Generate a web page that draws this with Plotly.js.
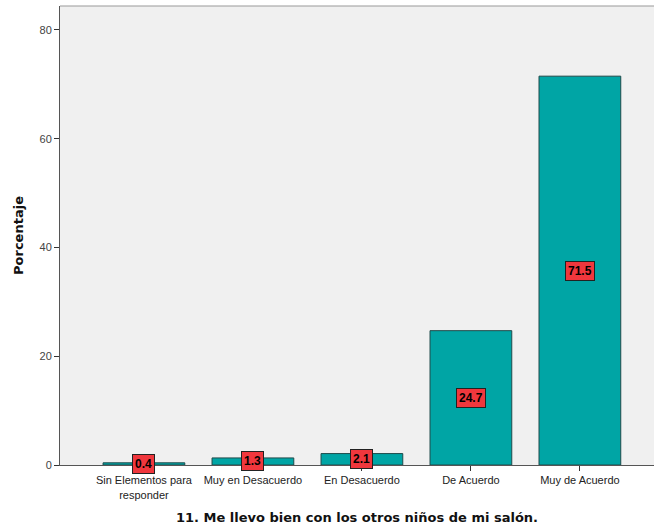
<!DOCTYPE html>
<html><head><meta charset="utf-8">
<script src="https://cdn.plot.ly/plotly-3.0.1.min.js"></script>
<style>html,body{margin:0;padding:0;background:#fff}</style>
</head><body>
<div id="chart" style="width:654px;height:529px"></div>
<script>
const categories = ["Sin Elementos para<br>responder", "Muy en Desacuerdo", "En Desacuerdo", "De Acuerdo", "Muy de Acuerdo"];
const values = [0.4, 1.3, 2.1, 24.7, 71.5];
const valueLabels = ["0.4", "1.3", "2.1", "24.7", "71.5"];
const yTicks = [0, 20, 40, 60, 80];

const trace = {
  type: "bar",
  x: categories,
  y: values,
  width: 0.75,
  marker: {color: "#00a5a5", line: {color: "#1e4a4a", width: 1}},
  hoverinfo: "none"
};

const annotations = categories.map((c, i) => ({
  x: c, y: values[i] / 2, xref: "x", yref: "y",
  text: "<b>" + valueLabels[i] + "</b>",
  showarrow: false,
  font: {family: "Liberation Sans, Arial, sans-serif", size: 12, color: "#000"},
  bgcolor: "#f0373d",
  bordercolor: "#222",
  borderwidth: 1,
  borderpad: 2
}));

const layout = {
  width: 654, height: 529,
  margin: {l: 60, r: 0, t: 6, b: 64},
  paper_bgcolor: "#ffffff",
  plot_bgcolor: "#f0f0f0",
  showlegend: false,
  font: {family: "Liberation Sans, Arial, sans-serif", size: 11, color: "#222"},
  xaxis: {
    type: "category",
    range: [-0.77, 4.68],
    showline: true, linecolor: "#555", linewidth: 1,
    mirror: false,
    ticks: "outside", ticklen: 5, tickcolor: "#333",
    showgrid: false, zeroline: false,
    tickfont: {size: 11, color: "#222"},
    title: {text: "<b>11. Me llevo bien con los otros niños de mi salón.</b>", font: {family: "DejaVu Sans, sans-serif", size: 13, color: "#111"}, standoff: 13}
  },
  yaxis: {
    range: [0, 84.4],
    tickvals: yTicks,
    showline: true, linecolor: "#555", linewidth: 1,
    ticks: "outside", ticklen: 5, tickcolor: "#333",
    showgrid: false, zeroline: false,
    tickfont: {size: 11, color: "#444"},
    title: {text: "<b>Porcentaje</b>", font: {family: "DejaVu Sans, sans-serif", size: 13, color: "#111"}, standoff: 12}
  },
  shapes: [{type: "line", xref: "paper", yref: "paper", x0: 0, x1: 1, y0: 1, y1: 1, line: {color: "#999", width: 1}}],
  annotations: annotations
};

Plotly.newPlot("chart", [trace], layout, {displayModeBar: false, staticPlot: true});
</script>
</body></html>
